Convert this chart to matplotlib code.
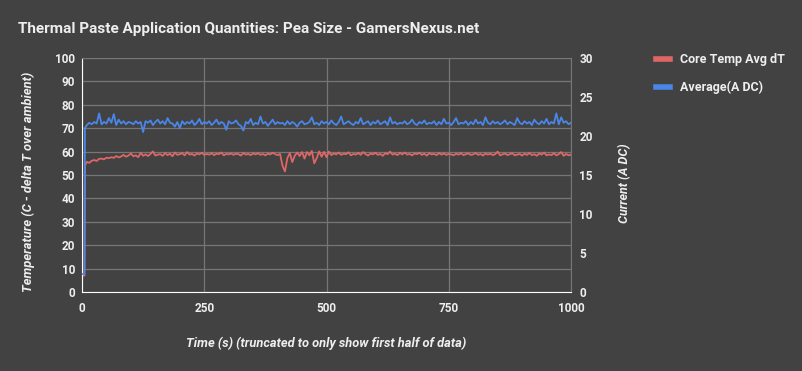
import matplotlib.pyplot as plt
import numpy as np

plt.rcParams['font.family'] = ['Roboto', 'DejaVu Sans']

# time axis: two samples before load, the step, then every 5 s
time_s = [0, 5, 6] + list(range(10, 1001, 5))

core_temp = [7.0, 7.0, 54.0,
    55.6, 55.2, 56.1, 56.4, 56.0, 56.9, 57.0, 56.7, 57.4, 57.2,
    57.6, 57.3, 58.1, 57.5, 57.9, 58.6, 57.8, 58.3, 59.2, 58.0,
    58.4, 57.6, 59.5, 58.2, 58.8, 58.1, 59.0, 60.1, 58.3, 58.7,
    58.9, 58.2, 59.4, 58.5, 59.1, 58.0, 59.6, 58.6, 58.9, 59.3,
    58.4, 59.8, 58.7, 59.0, 58.3, 59.2, 58.8, 59.5, 58.6, 59.0,
    58.7, 59.3, 58.5, 59.1, 58.9, 59.6, 58.4, 59.0, 58.8, 59.2,
    58.6, 59.1, 58.9, 58.3, 59.4, 58.7, 59.0, 58.5, 59.2, 58.8,
    59.3, 58.6, 59.0, 58.4, 59.1, 58.8, 59.5, 58.9, 58.5, 59.0,
    54.0, 51.5, 57.2, 59.4, 55.5, 58.2, 59.6, 58.1, 59.8, 57.0,
    59.8, 58.4, 60.3, 55.0, 57.2, 60.1, 57.8, 59.9, 57.6, 60.0,
    58.5, 59.2, 58.8, 59.6, 58.6, 59.1, 58.9, 59.7, 58.4, 59.0,
    58.7, 59.4, 58.6, 59.8, 58.9, 58.3, 59.2, 58.8, 59.5, 58.6,
    59.0, 58.2, 59.3, 58.9, 60.0, 58.7, 59.1, 58.5, 59.4, 58.8,
    59.6, 58.7, 59.0, 58.4, 59.2, 58.9, 59.5, 58.6, 59.1, 58.3,
    59.3, 58.8, 59.0, 58.5, 59.4, 58.7, 59.2, 58.6, 59.0, 58.8,
    58.4, 59.1, 58.7, 59.3, 58.5, 58.9, 59.2, 58.6, 58.8, 59.4,
    58.6, 59.0, 58.3, 59.2, 58.7, 59.1, 58.5, 58.9, 60.0, 58.4,
    58.8, 59.2, 58.5, 58.9, 59.3, 58.4, 58.7, 59.0, 58.3, 59.1,
    58.6, 59.4, 58.5, 58.9, 58.2, 59.2, 58.7, 59.6, 58.4, 58.8,
    58.5, 59.3, 58.4, 58.9, 59.8, 58.2, 59.0, 58.4, 58.7]

current_a = [2.3, 2.3, 21.0,
    21.4, 21.7, 21.5, 21.8, 21.6, 22.9, 21.5, 21.8, 21.6, 22.3,
    21.7, 22.8, 21.4, 22.1, 21.6, 21.9, 21.5, 21.8, 21.7, 21.5,
    21.9, 21.6, 21.8, 20.5, 21.9, 21.7, 22.0, 21.4, 21.8, 22.1,
    21.6, 21.9, 21.5, 22.3, 21.7, 21.6, 21.2, 21.8, 21.0, 21.9,
    21.5, 21.8, 21.6, 22.0, 21.4, 21.7, 22.2, 21.5, 21.8, 21.6,
    21.9, 21.4, 21.7, 22.1, 21.5, 21.8, 21.6, 20.8, 21.9, 21.6,
    21.7, 22.0, 21.5, 21.3, 20.7, 21.8, 21.6, 22.2, 21.4, 21.7,
    21.5, 22.5, 21.6, 21.8, 21.3, 21.7, 22.1, 21.5, 21.8, 21.6,
    21.7, 21.4, 21.9, 21.5, 21.8, 21.6, 21.2, 21.7, 21.9, 21.5,
    21.6, 21.8, 22.4, 21.5, 21.7, 21.4, 21.9, 21.6, 21.8, 21.5,
    22.0, 21.6, 21.4, 21.8, 22.5, 21.5, 21.7, 21.9, 21.6, 21.4,
    21.8, 21.6, 22.3, 21.5, 21.7, 21.9, 21.4, 21.8, 21.6, 22.0,
    21.5, 21.7, 21.9, 21.4, 22.4, 21.6, 21.8, 21.5, 21.7, 21.6,
    21.9, 21.5, 21.7, 22.1, 21.6, 21.4, 21.8, 21.6, 22.0, 21.5,
    21.7, 21.6, 21.9, 21.4, 21.8, 21.5, 22.2, 21.6, 21.7, 21.4,
    21.8, 22.3, 21.5, 21.7, 21.6, 21.9, 21.4, 21.8, 21.5, 22.1,
    21.6, 21.8, 21.4, 22.4, 21.7, 21.5, 21.9, 21.6, 21.8, 21.5,
    21.7, 22.0, 21.5, 21.8, 21.6, 21.4, 22.3, 21.7, 21.5, 21.9,
    21.6, 21.8, 21.4, 22.1, 21.7, 21.5, 21.9, 21.6, 22.2, 21.5,
    21.8, 21.6, 22.9, 21.5, 22.4, 21.7, 21.9, 21.5, 21.7]

bg = '#424242'
txt = '#eeeeee'
grid = '#767676'
red = '#e06666'
blue = '#4a86e8'

fig = plt.figure(figsize=(8.02, 3.71), dpi=100, facecolor=bg)
ax = fig.add_axes([82 / 802, 1 - 292 / 371, 489 / 802, 234 / 371])
ax.set_facecolor(bg)
ax2 = ax.twinx()

l1, = ax.plot(time_s, core_temp, color=red, lw=1.3, label='Core Temp Avg dT')
l2, = ax2.plot(time_s, current_a, color=blue, lw=1.3, label='Average(A DC)')

ax.set_xlim(0, 1000)
ax.set_ylim(0, 100)
ax2.set_ylim(0, 30)
ax.set_xticks([0, 250, 500, 750, 1000])
ax.set_yticks(np.arange(0, 101, 10))
ax2.set_yticks(np.arange(0, 31, 5))

ax.grid(True, color=grid, lw=0.9)
ax.set_axisbelow(True)
for a in (ax, ax2):
    a.tick_params(length=0, colors=txt, labelsize=8.5)
    for lab in a.get_xticklabels() + a.get_yticklabels():
        lab.set_fontweight('bold')
    for s in a.spines.values():
        s.set_visible(False)
ax.tick_params(axis='y', pad=5)
ax.tick_params(axis='x', pad=7)
ax2.tick_params(axis='y', pad=6)
ax.spines['left'].set_visible(True)
ax.spines['left'].set_color('white')
ax.spines['bottom'].set_visible(True)
ax.spines['bottom'].set_color('white')
ax.spines['right'].set_visible(True)
ax.spines['right'].set_color(grid)
ax.spines['top'].set_visible(True)
ax.spines['top'].set_color(grid)

fig.text(326 / 802, 1 - 343 / 371, 'Time (s) (truncated to only show first half of data)',
         color=txt, fontsize=9.3, fontstyle='italic', fontweight='bold',
         ha='center', va='center')
fig.text(28 / 802, 1 - 182 / 371, 'Temperature (C - delta T over ambient)', color=txt,
         fontsize=9.3, fontstyle='italic', fontweight='bold', rotation=90,
         ha='center', va='center')
fig.text(625 / 802, 1 - 183 / 371, 'Current (A DC)', color=txt, fontsize=9,
         fontstyle='italic', fontweight='bold', rotation=90, ha='center', va='center')

fig.text(18 / 802, 1 - 29 / 371, 'Thermal Paste Application Quantities: Pea Size - GamersNexus.net',
         color=txt, fontsize=11, fontweight='bold', va='center', ha='left')

leg = fig.legend(handles=[l1, l2], loc='upper left', bbox_to_anchor=(645 / 802, 1 - 42 / 371),
                 frameon=False, labelcolor=txt, fontsize=9, handlelength=1.1,
                 handleheight=0.6, labelspacing=1.15, handletextpad=0.8)
for h in leg.legend_handles:
    h.set_linewidth(4)
for t in leg.get_texts():
    t.set_fontweight('bold')

fig.savefig('out.png', dpi=100, facecolor=bg)
